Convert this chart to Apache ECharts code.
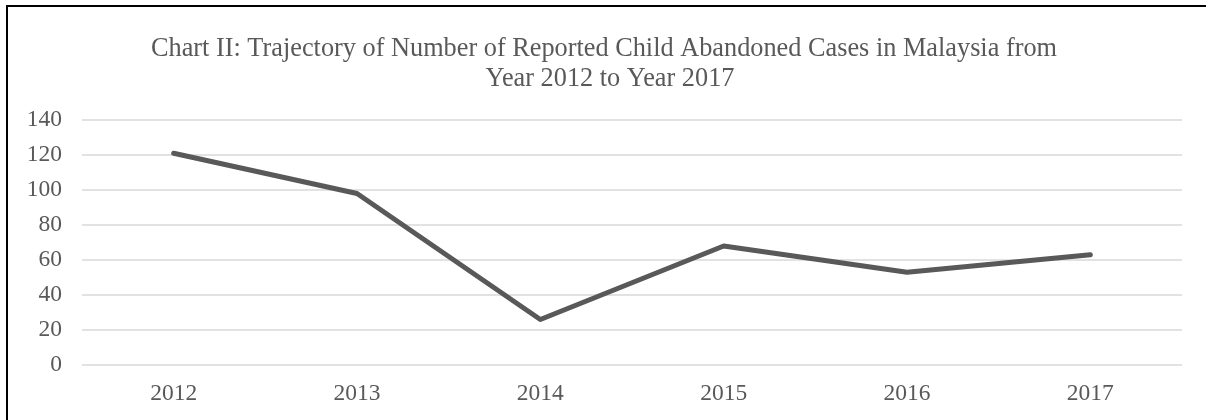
<!DOCTYPE html>
<html>
<head>
<meta charset="utf-8">
<script src="https://cdn.jsdelivr.net/npm/echarts@6/dist/echarts.min.js"></script>
<style>
  html, body { margin: 0; padding: 0; background: #fff; }
  #chart { width: 1206px; height: 420px; }
</style>
</head>
<body>
<div id="chart"></div>
<script>
// Reported child abandonment cases per year
const years = ['2012', '2013', '2014', '2015', '2016', '2017'];
const cases = [121, 98, 26, 68, 53, 63];
const yTicks = { min: 0, max: 140, interval: 20 };
const titleLines = [
  'Chart II: Trajectory of Number of Reported Child Abandoned Cases in Malaysia from',
  'Year 2012 to Year 2017'
];

const serif = '"Liberation Serif", "Times New Roman", serif';
const textGray = '#595959';

const titleStyle = {
  fontFamily: serif,
  fontSize: 26.3,
  fontWeight: 'normal',
  color: textGray,
  lineHeight: 30
};

const chart = echarts.init(document.getElementById('chart'));
chart.setOption({
  animation: false,
  backgroundColor: '#fff',
  title: [
    { text: titleLines[0], left: 599, top: 29, textAlign: 'center', textStyle: titleStyle },
    { text: titleLines[1], left: 605, top: 59, textAlign: 'center', textStyle: titleStyle }
  ],
  graphic: [{
    type: 'rect',
    shape: { x: 7, y: 6, width: 1220, height: 440 },
    style: { fill: 'none', stroke: '#000', lineWidth: 2 },
    silent: true
  }],
  grid: { left: 82, right: 24, top: 120, bottom: 55, containLabel: false },
  xAxis: {
    type: 'category',
    data: years,
    boundaryGap: true,
    axisLine: { show: false },
    axisTick: { show: false },
    axisLabel: { fontFamily: serif, fontSize: 23.5, color: textGray, margin: 17 }
  },
  yAxis: {
    type: 'value',
    min: yTicks.min,
    max: yTicks.max,
    interval: yTicks.interval,
    axisLine: { show: false },
    axisTick: { show: false },
    axisLabel: { fontFamily: serif, fontSize: 23.5, color: textGray, margin: 20 },
    splitLine: { lineStyle: { color: '#d9d9d9', width: 1.5 } }
  },
  series: [{
    type: 'line',
    data: cases,
    symbol: 'none',
    lineStyle: { color: textGray, width: 5, cap: 'round', join: 'round' }
  }]
});
</script>
</body>
</html>
